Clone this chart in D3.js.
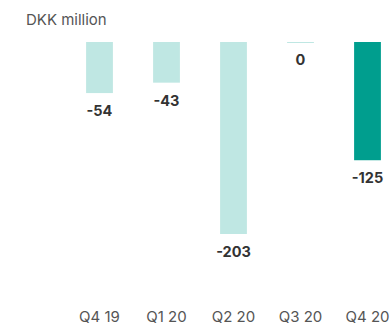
<!DOCTYPE html>
<html>
<head>
<meta charset="utf-8">
<script src="https://cdn.jsdelivr.net/npm/d3@7"></script>
<style>
  html, body { margin: 0; padding: 0; background: #fff; }
  svg { display: block; font-family: Inter, "Open Sans", sans-serif; }
</style>
</head>
<body>
<svg id="chart" width="392" height="327"></svg>
<script>
// Quarterly result, DKK million
const quarters = ["Q4 19", "Q1 20", "Q2 20", "Q3 20", "Q4 20"];
const values = [-54, -43, -203, 0, -125];
const highlight = ["Q4 20"];
const unitLabel = "DKK million";

const svg = d3.select("#chart");

const x = d3.scaleBand()
  .domain(quarters)
  .range([66, 401])
  .paddingInner(0.6)
  .paddingOuter(0.3);

const y = d3.scaleLinear()
  .domain([0, -203])
  .range([42, 234]);

const light = "#bfe7e3";
const dark = "#009e8e";

svg.append("text")
  .attr("x", 26)
  .attr("y", 25)
  .attr("font-size", 15)
  .attr("fill", "#555")
  .text(unitLabel);

const data = quarters.map((q, i) => ({ q, v: values[i] }));

svg.selectAll("rect.bar")
  .data(data)
  .join("rect")
  .attr("class", "bar")
  .attr("x", d => x(d.q))
  .attr("width", x.bandwidth())
  .attr("y", y(0))
  .attr("height", d => Math.max(1, y(d.v) - y(0)))
  .attr("fill", d => highlight.includes(d.q) ? dark : light);

svg.selectAll("text.val")
  .data(data)
  .join("text")
  .attr("class", "val")
  .attr("x", d => x(d.q) + x.bandwidth() / 2)
  .attr("y", d => y(d.v) + 23)
  .attr("text-anchor", "middle")
  .attr("font-size", 14.5)
  .attr("font-weight", 700)
  .attr("fill", "#333")
  .text(d => d.v);

const axis = d3.axisBottom(x).tickSize(0).tickPadding(0);
const g = svg.append("g")
  .attr("transform", "translate(0,322)")
  .call(axis);
g.select(".domain").remove();
g.selectAll("text")
  .attr("font-size", 15)
  .attr("font-family", "Inter, 'Open Sans', sans-serif")
  .attr("fill", "#555")
  .attr("dy", null)
  .attr("y", 0);
</script>
</body>
</html>
